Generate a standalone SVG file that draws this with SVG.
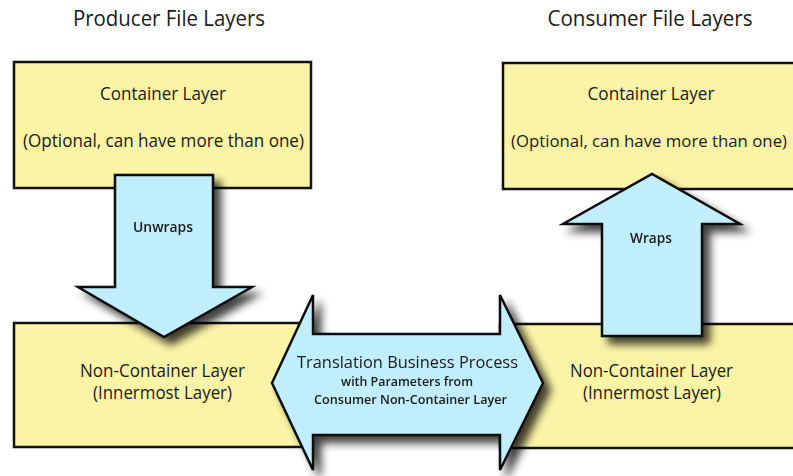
<svg xmlns="http://www.w3.org/2000/svg" width="793" height="476" viewBox="0 0 793 476">
<defs>
<filter id="shadow" x="-20%" y="-20%" width="150%" height="150%">
<feGaussianBlur in="SourceAlpha" stdDeviation="4.5"/>
<feOffset dx="7" dy="7" result="b"/>
<feComponentTransfer><feFuncA type="linear" slope="0.75"/></feComponentTransfer>
<feMerge><feMergeNode/><feMergeNode in="SourceGraphic"/></feMerge>
</filter>
</defs>
<style>
.box{fill:#FBF4A6;stroke:#111;stroke-width:2.5}
.arrow{fill:#C1EEFD;stroke:#111;stroke-width:2.5;stroke-linejoin:miter}
text{font-family:"Open Sans","Noto Sans",sans-serif;fill:#1a1a1a;text-anchor:middle}
.title{font-size:21px}
.lbl{font-size:17.5px}
.lbl2{font-size:16px}
.small{font-size:13.5px;font-weight:600}
.tb{font-size:16.5px}
.ts{font-size:12.5px;font-weight:600}
</style>
<rect width="793" height="476" fill="#fff"/>
<text class="title" x="169" y="26" textLength="192" lengthAdjust="spacingAndGlyphs">Producer File Layers</text>
<text class="title" x="650" y="26" textLength="205" lengthAdjust="spacingAndGlyphs">Consumer File Layers</text>
<g id="producer-container">
<rect class="box" x="14" y="62" width="297" height="126"/>
<text class="lbl" x="163" y="100" textLength="126" lengthAdjust="spacingAndGlyphs">Container Layer</text>
<text class="lbl" x="163.5" y="147" textLength="281" lengthAdjust="spacingAndGlyphs">(Optional, can have more than one)</text>
</g>
<g id="consumer-container">
<rect class="box" x="503" y="63" width="300" height="126"/>
<text class="lbl" x="651" y="100" textLength="127" lengthAdjust="spacingAndGlyphs">Container Layer</text>
<text class="lbl2" x="649" y="147" textLength="276" lengthAdjust="spacingAndGlyphs">(Optional, can have more than one)</text>
</g>
<g id="producer-noncontainer">
<rect class="box" x="14" y="323" width="297" height="124"/>
<text class="lbl" x="162.5" y="377" textLength="165" lengthAdjust="spacingAndGlyphs">Non-Container Layer</text>
<text class="lbl" x="162.5" y="399" textLength="139" lengthAdjust="spacingAndGlyphs">(Innermost Layer)</text>
</g>
<g id="consumer-noncontainer">
<rect class="box" x="500" y="324" width="303" height="124"/>
<text class="lbl" x="651.5" y="377" textLength="163" lengthAdjust="spacingAndGlyphs">Non-Container Layer</text>
<text class="lbl" x="652" y="399" textLength="138" lengthAdjust="spacingAndGlyphs">(Innermost Layer)</text>
</g>
<g id="connectors">
<g id="unwraps" filter="url(#shadow)">
<path class="arrow" d="M115,175 L213,175 L213,287 L252,287 L164,337 L78,287 L115,287 Z"/>
<text class="small" x="163" y="232" textLength="60" lengthAdjust="spacingAndGlyphs">Unwraps</text>
</g>
<g id="wraps" filter="url(#shadow)">
<path class="arrow" d="M602,336 L602,224 L563,224 L652,174 L740,224 L702,224 L702,336 Z"/>
<text class="small" x="651" y="243" textLength="42" lengthAdjust="spacingAndGlyphs">Wraps</text>
</g>
<g id="translation" filter="url(#shadow)">
<path class="arrow" d="M272,383 L313,295 L313,334 L500,334 L500,295 L543,383 L500,470 L500,435 L313,435 L313,470 Z"/>
<text class="tb" x="407.5" y="368" textLength="221" lengthAdjust="spacingAndGlyphs">Translation Business Process</text>
<text class="ts" x="407" y="386" textLength="132" lengthAdjust="spacingAndGlyphs">with Parameters from</text>
<text class="ts" x="410.5" y="404" textLength="193" lengthAdjust="spacingAndGlyphs">Consumer Non-Container Layer</text>
</g>
</g>
</svg>
